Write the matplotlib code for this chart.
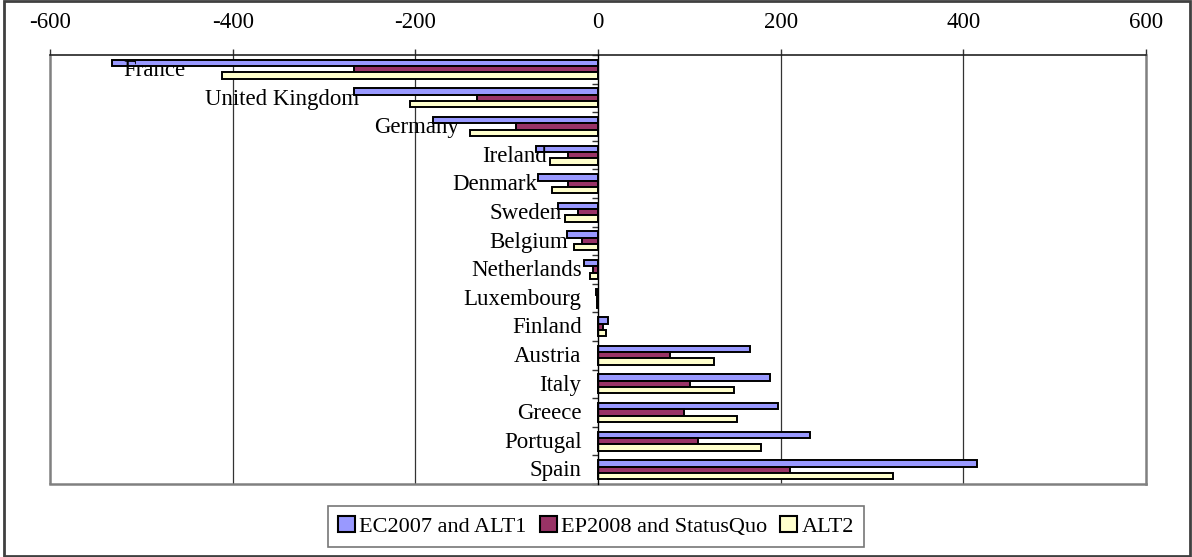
import matplotlib.pyplot as plt
import matplotlib.patches as mpatches
import numpy as np

plt.rcParams['font.family'] = ['Liberation Serif', 'DejaVu Serif']

countries = ['France', 'United Kingdom', 'Germany', 'Ireland', 'Denmark', 'Sweden',
             'Belgium', 'Netherlands', 'Luxembourg', 'Finland', 'Austria', 'Italy',
             'Greece', 'Portugal', 'Spain']
ec2007 = [-532, -267, -181, -68, -66, -44, -34, -15, -2, 11, 166, 188, 197, 232, 415]
ep2008 = [-267, -133, -90, -33, -33, -22, -18, -5, -1, 5.5, 79, 101, 94, 109, 210]
alt2 = [-412, -206, -140, -53, -50, -36, -26, -9, -1.5, 8.5, 127, 149, 152, 178, 323]

series_names = ['EC2007 and ALT1', 'EP2008 and StatusQuo', 'ALT2']
series_colors = ['#9999FF', '#993366', '#FFFFCC']

# where each category label ends (labels sit left of the bars)
label_right = [-452, -262, -152, -56, -66, -40, -33, -18, -18, -18, -18, -18, -18, -18, -18]

W, H = 1192, 557
fig = plt.figure(figsize=(W / 100, H / 100), dpi=100)
ax = fig.add_axes([50 / W, 1 - 484 / H, 1096 / W, 429 / H])

y = np.arange(len(countries)) + 0.5
bh = 0.222
for k, (vals, col) in enumerate(zip([ec2007, ep2008, alt2], series_colors)):
    ax.barh(y + (k - 1) * bh, vals, height=bh, color=col, edgecolor='black',
            linewidth=1.4, label=series_names[k], zorder=3)

ax.set_xlim(-600, 600)
ax.set_ylim(len(countries), 0)

# x axis on top
ax.xaxis.tick_top()
ax.set_xticks(range(-600, 601, 200))
ax.set_xticklabels([str(v) for v in range(-600, 601, 200)])
ax.tick_params(axis='x', direction='out', length=4, width=1, pad=12,
               labelsize=16.5, color='#333333')
for v in (-400, -200, 200, 400):
    ax.axvline(v, color='#333333', lw=0.9, zorder=1)

# category axis at zero
ax.spines['left'].set_position(('data', 0))
ax.spines['left'].set_color('black')
ax.spines['left'].set_linewidth(1)
ax.spines['left'].set_zorder(4)
ax.set_yticks(np.arange(0, len(countries) + 1))
ax.set_yticklabels([])
ax.tick_params(axis='y', direction='out', length=4.5, width=1, color='#333333')

for sp in ('right', 'bottom'):
    ax.spines[sp].set_color('#808080')
    ax.spines[sp].set_linewidth(1.8)
ax.spines['top'].set_color('#222222')
ax.spines['top'].set_linewidth(1.2)
ax.add_patch(mpatches.Rectangle((0, 0), 0.0, 1, transform=ax.transAxes, fill=False,
                                edgecolor='#808080', lw=1.8, clip_on=False))

for name, yy, xr in zip(countries, y, label_right):
    ax.text(xr, yy + 0.04, name, ha='right', va='center', fontsize=16.5, zorder=5)

# legend
handles = [mpatches.Patch(facecolor=c, edgecolor='black', linewidth=1.5) for c in series_colors]
leg = fig.legend(handles, series_names, loc='center', ncol=3,
                 bbox_to_anchor=(596 / W, 1 - 526.5 / H), fontsize=16,
                 frameon=True, fancybox=False, edgecolor='#555555',
                 handlelength=0.75, handleheight=0.75, handletextpad=0.2,
                 columnspacing=0.6, borderpad=0.45, borderaxespad=0)
leg.get_frame().set_linewidth(1.2)

# outer chart border
fig.add_artist(mpatches.Rectangle((4 / W, 1 / H), 1186 / W, 555 / H,
                                  transform=fig.transFigure, fill=False,
                                  edgecolor='#404040', lw=2))

fig.savefig('out.png', dpi=100)
